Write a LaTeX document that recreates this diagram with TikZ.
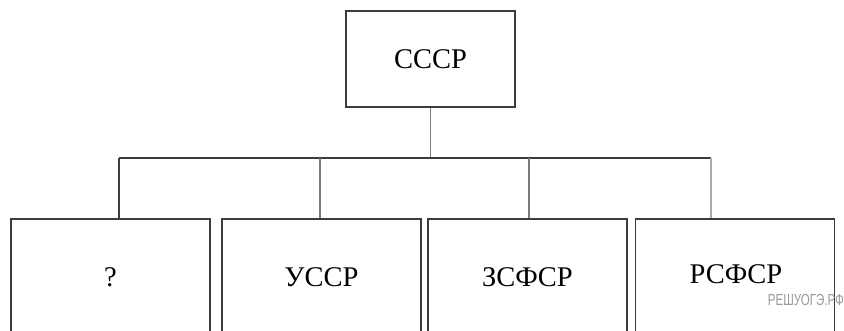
\documentclass[tikz,border=0pt]{standalone}
\usepackage{fontspec}
\setmainfont{Liberation Serif}
\newfontfamily\wmfont{Liberation Sans}
\definecolor{boxline}{HTML}{3C3C3C}
\definecolor{midgray}{HTML}{7A7A7A}
\definecolor{lightgray2}{HTML}{ABABAB}
\definecolor{wmgray}{HTML}{9A9A9A}
\begin{document}
\begin{tikzpicture}[x=1pt,y=-1pt,
  unitbox/.style={draw=boxline,line width=1.4pt,rectangle,inner sep=0pt,
    font=\fontsize{28.5}{30}\selectfont},
  lowbox/.style={unitbox,minimum width=199pt,minimum height=116pt},
  darkline/.style={draw=boxline,line width=1.4pt},
  midline/.style={draw=midgray,line width=1.4pt},
  paleline/.style={draw=lightgray2,line width=1.4pt}]
\useasboundingbox (0,0) rectangle (844,330);
\clip (0,0) rectangle (844,330);
\fill[white] (0,0) rectangle (844,330);
% top box
\node[unitbox,minimum width=169pt,minimum height=96pt] (top) at (430.5,59) {СССР};
% bottom boxes
\node[lowbox] (b1) at (110.5,277) {?};
\node[lowbox] (b2) at (321.5,277) {УССР};
\node[lowbox] (b3) at (527.5,277) {ЗСФСР};
\node[lowbox] (b4) at (735,277) {};
\node[font=\fontsize{28.5}{30}\selectfont] (t4) at (736,274.5) {РСФСР};
% bus
\coordinate (j) at (top.south |- 0,158);
\coordinate (d1) at (119,158);
\coordinate (d2) at (320,158);
\coordinate (d3) at (529,158);
\coordinate (d4) at (711,158);
\draw[midline] (top.south) -- (j);
\draw[darkline] (d1) -- (d4);
\draw[darkline] (d1) -- (d1 |- b1.north);
\draw[midline] (d2) -- (d2 |- b2.north);
\draw[midline] (d3) -- (d3 |- b3.north);
\draw[paleline] (d4) -- (d4 |- b4.north);
% watermark
\node[anchor=east,inner sep=0pt,text=wmgray,font=\wmfont\fontsize{16}{16}\selectfont] (wm) at (844,300) {\scalebox{0.72}[1]{РЕШУОГЭ.РФ}};
\end{tikzpicture}
\end{document}
